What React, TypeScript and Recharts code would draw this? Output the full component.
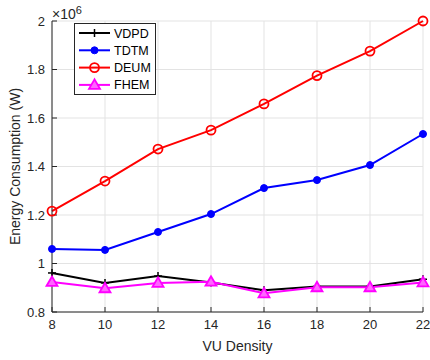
import React from 'react';
import { LineChart, Line, XAxis, YAxis, CartesianGrid } from 'recharts';

// VU density on the x axis, energy in units of 1e6 W
const density = [8, 10, 12, 14, 16, 18, 20, 22];
const vdpd = [0.961, 0.92, 0.948, 0.922, 0.89, 0.905, 0.905, 0.935];
const tdtm = [1.06, 1.056, 1.13, 1.204, 1.311, 1.344, 1.406, 1.534];
const deum = [1.216, 1.34, 1.472, 1.55, 1.658, 1.775, 1.876, 2.0];
const fhem = [0.924, 0.898, 0.92, 0.925, 0.877, 0.902, 0.902, 0.922];

const xTicks = [8, 10, 12, 14, 16, 18, 20, 22];
const yTicks = [0.8, 1, 1.2, 1.4, 1.6, 1.8, 2];

const data = density.map((d, i) => ({
  x: d,
  VDPD: vdpd[i],
  TDTM: tdtm[i],
  DEUM: deum[i],
  FHEM: fhem[i],
}));

const axisColor = '#262626';
const font = '"Liberation Sans", Arial, sans-serif';

const PlusDot = (props: any) => {
  const { cx, cy } = props;
  if (cx == null || cy == null) return null;
  return (
    <g stroke="#000" strokeWidth={1.5}>
      <line x1={cx - 4} y1={cy} x2={cx + 4} y2={cy} />
      <line x1={cx} y1={cy - 4} x2={cx} y2={cy + 4} />
    </g>
  );
};

const FilledDot = (props: any) => {
  const { cx, cy } = props;
  if (cx == null || cy == null) return null;
  return <circle cx={cx} cy={cy} r={3.5} fill="#0000ff" stroke="#0000ff" />;
};

const OpenCircle = (props: any) => {
  const { cx, cy } = props;
  if (cx == null || cy == null) return null;
  return <circle cx={cx} cy={cy} r={4.5} fill="none" stroke="#ff0000" strokeWidth={1.8} />;
};

const Triangle = (props: any) => {
  const { cx, cy } = props;
  if (cx == null || cy == null) return null;
  return (
    <polygon
      points={`${cx},${cy - 5.5} ${cx - 5.5},${cy + 4} ${cx + 5.5},${cy + 4}`}
      fill="#ff66ff"
      stroke="#ff00ff"
      strokeWidth={1.8}
    />
  );
};

const legendItems = [
  { name: 'VDPD', color: '#000000', Marker: PlusDot },
  { name: 'TDTM', color: '#0000ff', Marker: FilledDot },
  { name: 'DEUM', color: '#ff0000', Marker: OpenCircle },
  { name: 'FHEM', color: '#ff00ff', Marker: Triangle },
];

const LegendBox = () => (
  <svg width={82} height={72} style={{ position: 'absolute', left: 74, top: 23 }}>
    <rect x={0.5} y={0.5} width={81} height={71} fill="#fff" stroke={axisColor} strokeWidth={1} />
    {legendItems.map((it, i) => {
      const y = 10 + i * 17.3;
      const M = it.Marker;
      return (
        <g key={it.name}>
          <line x1={5} y1={y} x2={36} y2={y} stroke={it.color} strokeWidth={2} />
          <M cx={20.5} cy={y} />
          <text x={40} y={y + 4.5} fontSize={12.5} fontFamily={font} fill="#000">
            {it.name}
          </text>
        </g>
      );
    })}
  </svg>
);

export default function App() {
  return (
    <div style={{ position: 'absolute', left: 0, top: 0, width: 430, height: 360, background: '#fff' }}>
      <LineChart width={430} height={360} data={data} margin={{ top: 21, right: 7, left: 0, bottom: 0 }}>
        <CartesianGrid stroke="#e3e3e3" strokeWidth={1} />
        <XAxis
          dataKey="x"
          type="number"
          domain={[8, 22]}
          ticks={xTicks}
          height={48}
          stroke={axisColor}
          tickSize={-5}
          tickMargin={13}
          tick={{ fill: axisColor, fontSize: 13, fontFamily: font }}
          label={{ value: 'VU Density', position: 'insideBottom', offset: 9, fill: axisColor, fontSize: 14, fontFamily: font }}
        />
        <XAxis
          xAxisId="top"
          orientation="top"
          dataKey="x"
          type="number"
          domain={[8, 22]}
          ticks={xTicks}
          height={0}
          stroke={axisColor}
          tickSize={-5}
          tick={false}
        />
        <YAxis
          type="number"
          domain={[0.8, 2]}
          ticks={yTicks}
          width={52}
          stroke={axisColor}
          tickSize={-5}
          tickMargin={12}
          tick={{ fill: axisColor, fontSize: 13, fontFamily: font }}
          label={{
            value: 'Energy Consumption (W)',
            angle: -90,
            position: 'insideLeft',
            offset: 15,
            style: { textAnchor: 'middle' },
            fill: axisColor,
            fontSize: 14,
            fontFamily: font,
          }}
        />
        <YAxis
          yAxisId="right"
          orientation="right"
          type="number"
          domain={[0.8, 2]}
          ticks={yTicks}
          width={0}
          stroke={axisColor}
          tickSize={-5}
          tick={false}
        />
        <Line dataKey="VDPD" stroke="#000000" strokeWidth={2} dot={<PlusDot />} isAnimationActive={false} />
        <Line dataKey="TDTM" stroke="#0000ff" strokeWidth={2} dot={<FilledDot />} isAnimationActive={false} />
        <Line dataKey="DEUM" stroke="#ff0000" strokeWidth={2} dot={<OpenCircle />} isAnimationActive={false} />
        <Line dataKey="FHEM" stroke="#ff00ff" strokeWidth={2} dot={<Triangle />} isAnimationActive={false} />
      </LineChart>
      <div
        style={{
          position: 'absolute',
          left: 52,
          top: 2,
          fontFamily: font,
          fontSize: 14,
          color: axisColor,
          lineHeight: '16px',
        }}
      >
        ×10<sup style={{ fontSize: 11, verticalAlign: '5px' }}>6</sup>
      </div>
      <LegendBox />
    </div>
  );
}
